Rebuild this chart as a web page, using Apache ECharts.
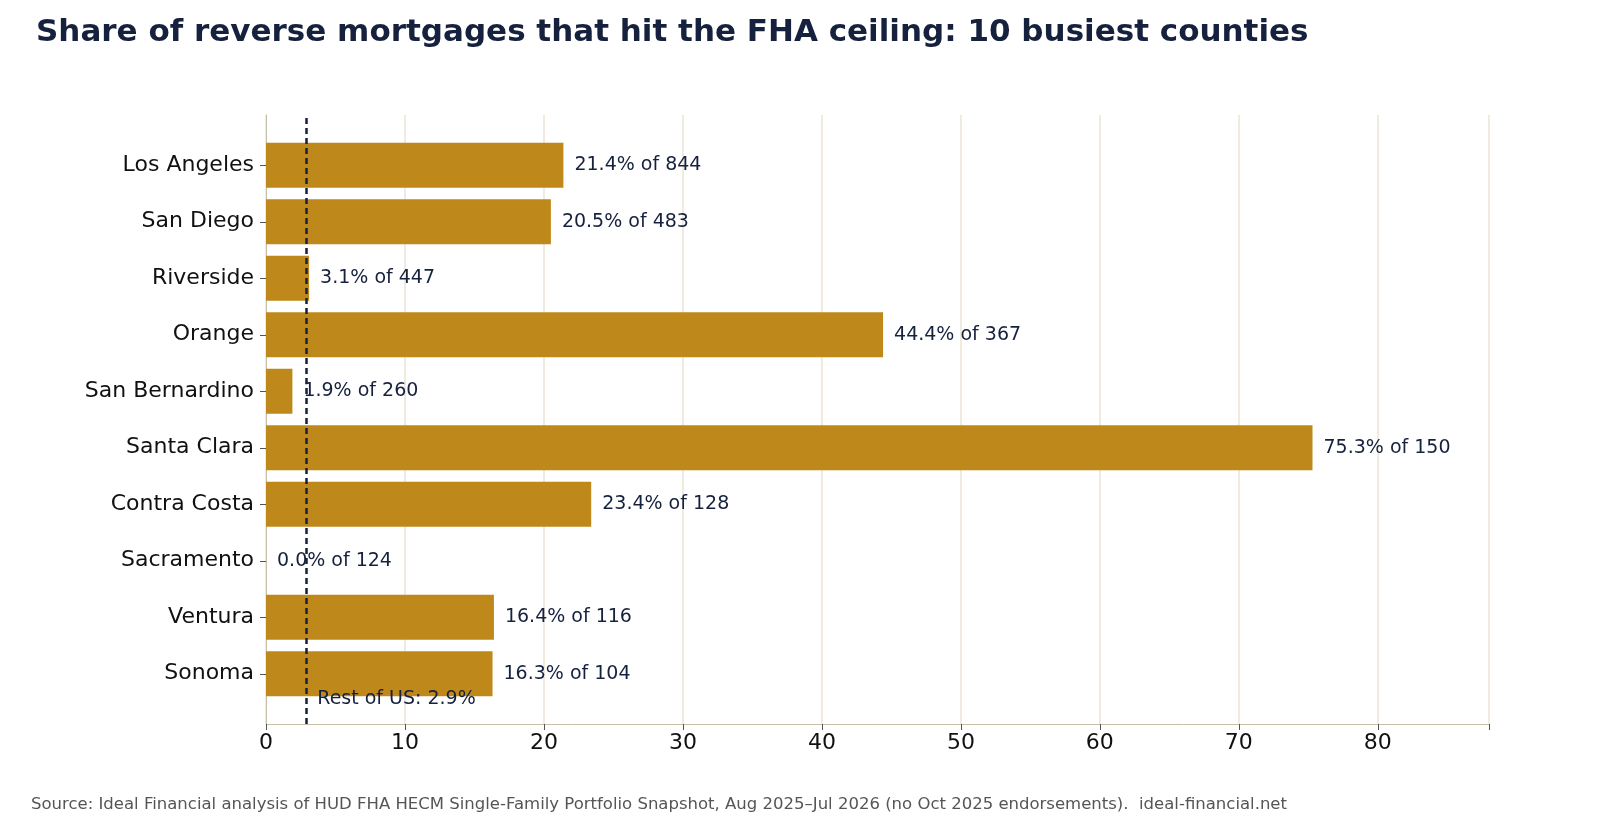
<!DOCTYPE html>
<html><head><meta charset="utf-8">
<script src="https://cdn.jsdelivr.net/npm/echarts@6/dist/echarts.min.js"></script>
<style>html,body{margin:0;background:#fff}#root{width:1600px;height:840px}</style>
</head><body><div id="root"></div>
<script>
const counties = ['Los Angeles','San Diego','Riverside','Orange','San Bernardino','Santa Clara','Contra Costa','Sacramento','Ventura','Sonoma'];
const shares = [21.4, 20.5, 3.1, 44.4, 1.9, 75.3, 23.4, 0.0, 16.4, 16.3];
const loans = [844, 483, 447, 367, 260, 150, 128, 124, 116, 104];
const restOfUs = 2.9;

const navy = '#16213e';
const axisColor = '#c8bfa8';
const L = 266, R = 1489, xMax = 88;
let chart = echarts.init(document.getElementById('root'));

chart.setOption({
  textStyle: {fontFamily: 'DejaVu Sans'},
  title: {
    text: 'Share of reverse mortgages that hit the FHA ceiling: 10 busiest counties',
    left: 31, top: 12,
    textStyle: {fontSize: 31, fontWeight: 'bold', color: navy}
  },
  graphic: [{
    type: 'text', left: 31, top: 796,
    style: {
      text: 'Source: Ideal Financial analysis of HUD FHA HECM Single-Family Portfolio Snapshot, Aug 2025\u2013Jul 2026 (no Oct 2025 endorsements).  ideal-financial.net',
      fontSize: 16.5, fill: '#555', fontFamily: 'DejaVu Sans'
    }
  }, {
    type: 'text', left: L + restOfUs / xMax * (R - L) + 11, top: 690,
    style: {text: 'Rest of US: ' + restOfUs + '%', fontSize: 19, fill: navy, fontFamily: 'DejaVu Sans'},
    z: 10
  }],
  grid: [
    {left: L, right: 1600 - R, top: 115, bottom: 116},
    {left: L, right: 1600 - R, top: 137, bottom: 138}
  ],
  xAxis: [{
    gridIndex: 0, type: 'value', min: 0, max: xMax, interval: 10,
    axisLine: {show: true, lineStyle: {color: axisColor}},
    axisTick: {show: true, length: 6, lineStyle: {color: '#555'}},
    axisLabel: {fontSize: 22, color: '#111', margin: 8,
      formatter: v => v % 10 === 0 && v <= 80 ? v : ''},
    splitLine: {lineStyle: {color: '#ece4d4', width: 1.5}}
  }, {
    gridIndex: 1, type: 'value', min: 0, max: xMax, show: false
  }],
  yAxis: [{
    gridIndex: 0, type: 'value', min: 0, max: 1,
    axisLine: {show: true, lineStyle: {color: axisColor}},
    axisTick: {show: false}, axisLabel: {show: false}, splitLine: {show: false}
  }, {
    gridIndex: 1, type: 'category', data: counties, inverse: true,
    axisLine: {show: false},
    axisTick: {show: true, alignWithLabel: true, length: 6, lineStyle: {color: '#555'}},
    axisLabel: {fontSize: 22, color: '#111', margin: 12}
  }],
  series: [{
    type: 'bar', xAxisIndex: 1, yAxisIndex: 1, data: shares, barCategoryGap: '20%',
    itemStyle: {color: '#bf881a'},
    label: {
      show: true, position: 'right', distance: 11, fontSize: 19, color: navy,
      formatter: p => shares[p.dataIndex].toFixed(1) + '% of ' + loans[p.dataIndex]
    },
    z: 2
  }, {
    type: 'line', xAxisIndex: 0, yAxisIndex: 0, data: [],
    markLine: {
      symbol: 'none', silent: true,
      lineStyle: {color: navy, type: [6, 4], width: 2.5},
      label: {show: false},
      data: [{xAxis: restOfUs}]
    },
    z: 5
  }]
});
</script></body></html>
